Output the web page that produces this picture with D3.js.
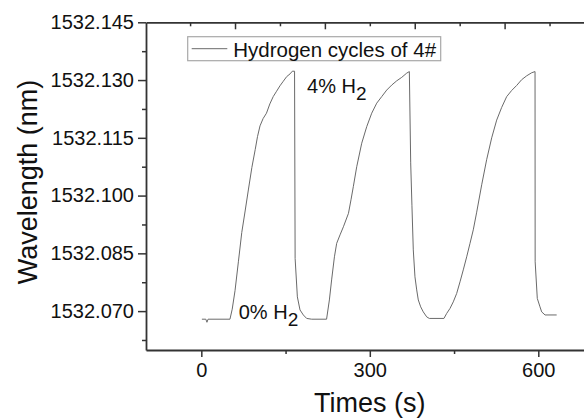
<!DOCTYPE html>
<html>
<head>
<meta charset="utf-8">
<script src="https://cdn.jsdelivr.net/npm/d3@7"></script>
<style>
  body { margin: 0; background: #fff; }
  text { font-family: "Liberation Sans", Arial, sans-serif; fill: #111; }
</style>
</head>
<body>
<svg id="chart" width="584" height="419"></svg>
<script>
// Data (time in s, wavelength in nm)
var times = [
  1, 8, 10, 12, 51, 55, 60, 66, 72, 78, 84, 90, 96, 100, 104.5, 110, 116, 122, 128, 134, 140, 146, 152, 158, 162, 166,
  167, 171, 175.7, 181.6, 187.6, 196.5, 223,
  228, 232, 237, 241, 247, 253, 262, 266.5, 270.6, 276.7, 285.6, 294.5, 303.4, 312.3, 321.2, 330.1, 339, 347.9, 356.8, 365.7, 370.4,
  372.8, 375, 377.4, 380.4, 383.5, 386.3, 390.6, 395.2, 401.3, 405.9, 432,
  436.9, 442.8, 448.6, 454.7, 460.6, 466.4, 472.5, 478.4, 484.2, 490.3, 499.2, 508, 517, 525.9, 534.8, 543.7, 552.6, 561.5, 570.4, 579.3, 588.2, 594.2,
  594.4, 598.2, 603, 606, 612, 632.7
];
var wavelengths = [
  1532.0679, 1532.0679, 1532.0671, 1532.0679, 1532.0679, 1532.0705, 1532.0753, 1532.0828, 1532.0904, 1532.0960, 1532.1017, 1532.1073, 1532.1120, 1532.1153, 1532.1181, 1532.1200, 1532.1214, 1532.1238, 1532.1257, 1532.1271, 1532.1285, 1532.1297, 1532.1309, 1532.1316, 1532.1323, 1532.1323,
  1532.0837, 1532.0737, 1532.0703, 1532.0690, 1532.0681, 1532.0679, 1532.0679,
  1532.0729, 1532.0781, 1532.0841, 1532.0876, 1532.0898, 1532.0919, 1532.0954, 1532.0989, 1532.1023, 1532.1075, 1532.1136, 1532.1179, 1532.1214, 1532.1240, 1532.1257, 1532.1274, 1532.1287, 1532.1298, 1532.1307, 1532.1318, 1532.1322,
  1532.1085, 1532.0975, 1532.0859, 1532.0789, 1532.0755, 1532.0729, 1532.0711, 1532.0698, 1532.0685, 1532.0681, 1532.0681,
  1532.0694, 1532.0707, 1532.0724, 1532.0746, 1532.0776, 1532.0807, 1532.0841, 1532.0876, 1532.0911, 1532.0957, 1532.1028, 1532.1093, 1532.1150, 1532.1196, 1532.1229, 1532.1257, 1532.1273, 1532.1286, 1532.1301, 1532.1311, 1532.1319, 1532.1322,
  1532.0828, 1532.0733, 1532.0711, 1532.0698, 1532.0690, 1532.0690
];

// Tick values
var xMajorTicks = [0, 300, 600];
var xMinorTicks = [150, 450];
var topMajorTicks = [60, 220, 380, 540];
var topMinorTicks = [-20, 140, 300, 460, 620];
var yMajorTicks = [1532.070, 1532.085, 1532.100, 1532.115, 1532.130, 1532.145];
var yMinorTicks = [1532.0625, 1532.0775, 1532.0925, 1532.1075, 1532.1225, 1532.1375];

// Labels
var seriesName = "Hydrogen cycles of 4#";
var xTitle = "Times (s)";
var yTitle = "Wavelength (nm)";
var annoLabels = ["4% H", "0% H"];
var annoTimes = [188.2, 66.6];
var annoValues = [1532.1266, 1532.0679];

var svg = d3.select("#chart");

var x = d3.scaleLinear().domain([-98.5, 720]).range([146, 605.7]);
var y = d3.scaleLinear().domain([1532.0599, 1532.145]).range([350, 22.3]);

var axisColor = "#333";

function styleAxis(g, fontSize) {
  g.select(".domain").attr("stroke", axisColor).attr("stroke-width", 1.8);
  g.selectAll(".tick line").attr("stroke", axisColor).attr("stroke-width", 1.5);
  g.selectAll(".tick text").attr("font-size", fontSize).attr("fill", "#111")
    .style("font-family", "'Liberation Sans', Arial, sans-serif");
}

// bottom axis
var gx = svg.append("g").attr("transform", "translate(0," + y(1532.0599) + ")")
  .call(d3.axisBottom(x).tickValues(xMajorTicks).tickSize(7).tickSizeOuter(0).tickPadding(6));
styleAxis(gx, 20);
var gxm = svg.append("g").attr("transform", "translate(0," + y(1532.0599) + ")")
  .call(d3.axisBottom(x).tickValues(xMinorTicks).tickSize(4).tickSizeOuter(0).tickFormat(""));
gxm.select(".domain").remove();
styleAxis(gxm, 20);

// top axis (ticks inward)
var gt = svg.append("g").attr("transform", "translate(0," + y(1532.145) + ")")
  .call(d3.axisTop(x).tickValues(topMajorTicks).tickSize(-7).tickSizeOuter(0).tickFormat(""));
styleAxis(gt, 20);
var gtm = svg.append("g").attr("transform", "translate(0," + y(1532.145) + ")")
  .call(d3.axisTop(x).tickValues(topMinorTicks).tickSize(-4).tickSizeOuter(0).tickFormat(""));
gtm.select(".domain").remove();
styleAxis(gtm, 20);

// left axis
var gy = svg.append("g").attr("transform", "translate(" + x(-98.5) + ",0)")
  .call(d3.axisLeft(y).tickValues(yMajorTicks).tickSize(8).tickSizeOuter(0).tickPadding(4).tickFormat(d3.format(".3f")));
styleAxis(gy, 20);
var gym = svg.append("g").attr("transform", "translate(" + x(-98.5) + ",0)")
  .call(d3.axisLeft(y).tickValues(yMinorTicks).tickSize(4).tickSizeOuter(0).tickFormat(""));
gym.select(".domain").remove();
styleAxis(gym, 20);

// data line
var line = d3.line()
  .x(function(d, i) { return x(times[i]); })
  .y(function(d) { return y(d); });

svg.append("path")
  .attr("d", line(wavelengths))
  .attr("fill", "none")
  .attr("stroke", "#6a6a6a")
  .attr("stroke-width", 1);

// legend
var legend = svg.append("g").attr("transform", "translate(187.7,36.7)");
legend.append("rect")
  .attr("width", 253).attr("height", 24)
  .attr("fill", "#fff").attr("stroke", "#a8a8a8").attr("stroke-width", 1.2);
legend.append("line")
  .attr("x1", 4).attr("x2", 39.6).attr("y1", 12).attr("y2", 12)
  .attr("stroke", "#6a6a6a").attr("stroke-width", 1);
legend.append("text")
  .attr("x", 45.5).attr("y", 20.8)
  .attr("font-size", 20.5)
  .text(seriesName);

// annotations
annoLabels.forEach(function(lbl, i) {
  var t = svg.append("text")
    .attr("x", x(annoTimes[i]))
    .attr("y", y(annoValues[i]))
    .attr("font-size", 20)
    .text(lbl);
  t.append("tspan").attr("dy", 6.5).attr("font-size", 19).text("2");
});

// axis titles
svg.append("text")
  .attr("x", x(300)).attr("y", 412)
  .attr("text-anchor", "middle")
  .attr("font-size", 27)
  .text(xTitle);

svg.append("text")
  .attr("transform", "translate(36.5," + 182 + ") rotate(-90)")
  .attr("text-anchor", "middle")
  .attr("font-size", 27)
  .text(yTitle);
</script>
</body>
</html>
